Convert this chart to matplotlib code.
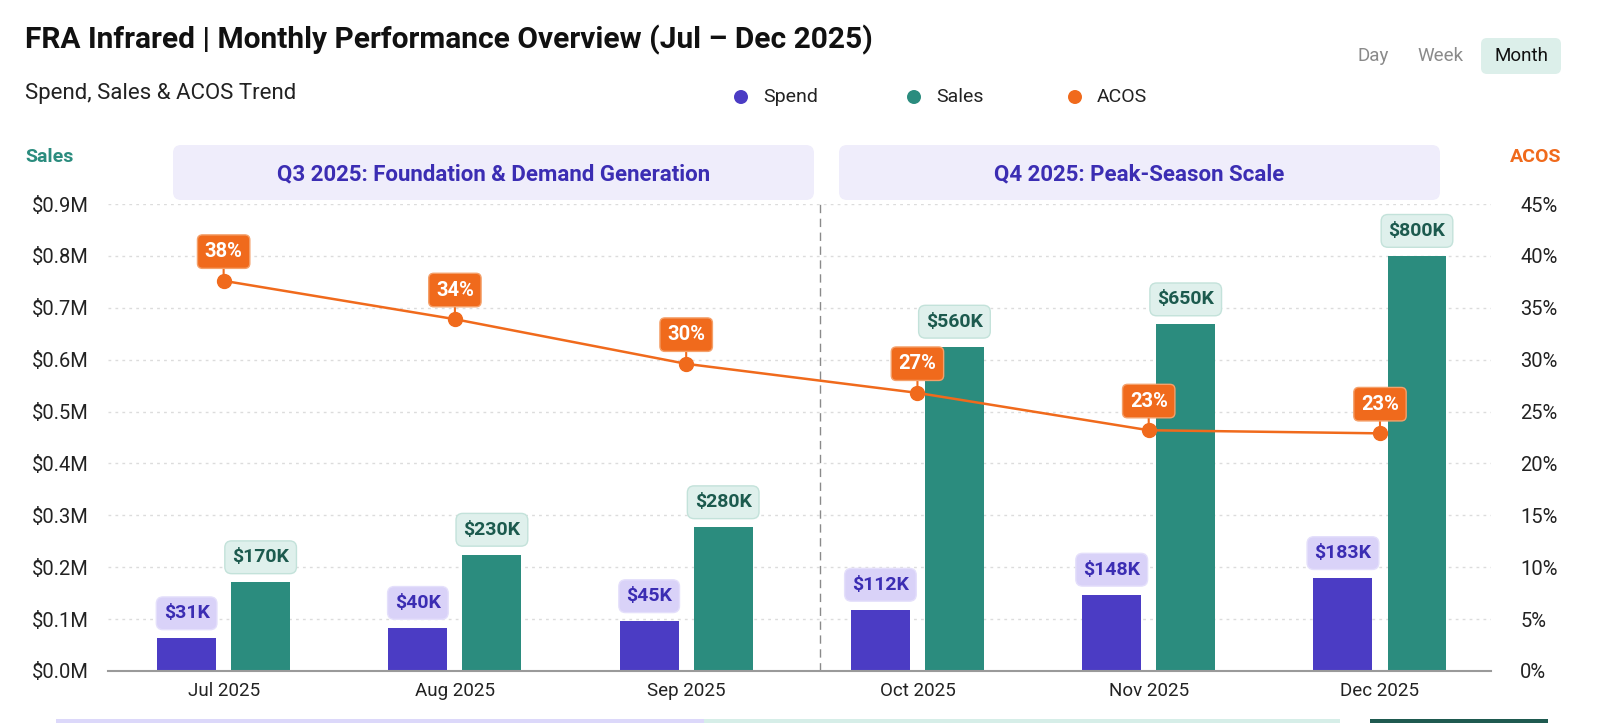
import numpy as np
import matplotlib
matplotlib.use('Agg')
import matplotlib.pyplot as plt
from matplotlib.patches import FancyBboxPatch, Circle, Rectangle
from matplotlib.transforms import IdentityTransform
from matplotlib.ticker import FuncFormatter, MultipleLocator

# data
months = ['Jul 2025', 'Aug 2025', 'Sep 2025', 'Oct 2025', 'Nov 2025', 'Dec 2025']
spend = [0.063, 0.083, 0.096, 0.118, 0.147, 0.179]      # bar heights, $M
sales = [0.171, 0.224, 0.277, 0.625, 0.668, 0.800]      # bar heights, $M
spend_labels = ['$31K', '$40K', '$45K', '$112K', '$148K', '$183K']
sales_labels = ['$170K', '$230K', '$280K', '$560K', '$650K', '$800K']
acos = [37.6, 33.9, 29.6, 26.8, 23.2, 22.9]             # %
acos_labels = ['38%', '34%', '30%', '27%', '23%', '23%']
quarters = ['Q3 2025: Foundation & Demand Generation', 'Q4 2025: Peak-Season Scale']

SPEND = '#4b3cc4'
SALES = '#2b8c7e'
ORANGE = '#f06a1c'
INDIGO = '#3b2db3'
DKGREEN = '#1c5a4e'

plt.rcParams['font.family'] = ['Roboto', 'DejaVu Sans']

W, H = 1600, 723
fig = plt.figure(figsize=(16, 7.23), dpi=100)
fig.patch.set_facecolor('white')

def fx(x):
    return x / W

def fy(y):
    return 1 - y / H

def rbox(x0, y0, x1, y1, fc, ec='none', r=8, lw=1):
    # pixel box, top-left origin
    p = FancyBboxPatch((x0, H - y1), x1 - x0, y1 - y0,
                       boxstyle=f'round,pad=0,rounding_size={r}',
                       fc=fc, ec=ec, lw=lw, transform=IdentityTransform())
    fig.add_artist(p)

# ---- header ----
fig.text(fx(25), fy(40), 'FRA Infrared | Monthly Performance Overview (Jul \u2013 Dec 2025)',
         fontsize=21.5, fontweight='bold', va='center', color='#111111')
fig.text(fx(25), fy(93), 'Spend, Sales & ACOS Trend', fontsize=16, va='center', color='#222222')

# Day / Week / Month toggle
rbox(1481, 38, 1561, 74, '#dcefea', r=6)
fig.text(fx(1373), fy(56), 'Day', fontsize=13.5, ha='center', va='center', color='#8a8a8a')
fig.text(fx(1441), fy(56), 'Week', fontsize=13.5, ha='center', va='center', color='#8a8a8a')
fig.text(fx(1521), fy(56), 'Month', fontsize=13.5, ha='center', va='center', color='#111111')

# legend
for cx, txt, col in [(741, 'Spend', SPEND), (914, 'Sales', SALES), (1075, 'ACOS', ORANGE)]:
    fig.add_artist(Circle((cx, H - 97), 7, fc=col, ec='none', transform=IdentityTransform()))
    fig.text(fx(cx + 22), fy(97), txt, fontsize=14, va='center', color='#222222')

# axis titles
fig.text(fx(25), fy(157), 'Sales', fontsize=14, fontweight='bold', va='center', color=SALES)
fig.text(fx(1561), fy(157), 'ACOS', fontsize=14, fontweight='bold', va='center', ha='right', color=ORANGE)

# quarter banners
rbox(173, 145, 814, 200, '#efedfb', r=8)
rbox(839, 145, 1440, 200, '#efedfb', r=8)
fig.text(fx((173 + 814) / 2), fy(174), quarters[0], fontsize=16, fontweight='bold',
         ha='center', va='center', color=INDIGO)
fig.text(fx((839 + 1440) / 2), fy(174), quarters[1], fontsize=16, fontweight='bold',
         ha='center', va='center', color=INDIGO)

# cut-off strip at bottom
fig.add_artist(Rectangle((56, -10), 648, 14, fc='#dcd8fa', ec='none', transform=IdentityTransform()))
fig.add_artist(Rectangle((704, -10), 636, 14, fc='#d6eee8', ec='none', transform=IdentityTransform()))
fig.add_artist(Rectangle((1370, -10), 178, 14, fc='#1f5a50', ec='none', transform=IdentityTransform()))

# ---- main axes ----
ax = fig.add_axes([fx(108), fy(671), fx(1491) - fx(108), (671 - 204) / H])
x = np.arange(len(months))
bw = 0.255
off = 0.16

ax.bar(x - off, spend, bw, color=SPEND, zorder=3)
ax.bar(x + off, sales, bw, color=SALES, zorder=3)

for xi, v, lab in zip(x, spend, spend_labels):
    ax.annotate(lab, (xi - off, v), xytext=(0, 18), textcoords='offset points',
                ha='center', va='center', fontsize=14, fontweight='bold', color=INDIGO,
                bbox=dict(boxstyle='round,pad=0.38,rounding_size=0.35', fc='#d9d2f8', ec='#e4dffb'),
                zorder=5, annotation_clip=False)
for xi, v, lab in zip(x, sales, sales_labels):
    ax.annotate(lab, (xi + off, v), xytext=(0, 18), textcoords='offset points',
                ha='center', va='center', fontsize=14, fontweight='bold', color=DKGREEN,
                bbox=dict(boxstyle='round,pad=0.38,rounding_size=0.35', fc='#dff0ec', ec='#c3e2da'),
                zorder=5, annotation_clip=False)

ax.set_xlim(-0.5, 5.48)
ax.set_ylim(0, 0.9)
ax.yaxis.set_major_locator(MultipleLocator(0.1))
ax.yaxis.set_major_formatter(FuncFormatter(lambda v, p: f'${v:.1f}M'))
ax.set_xticks(x)
ax.set_xticklabels(months)
ax.tick_params(axis='y', length=0, labelsize=14.5, colors='#222222', pad=14)
ax.tick_params(axis='x', length=0, labelsize=13.5, colors='#222222', pad=8)
ax.grid(axis='y', color='#dcdcdc', linestyle=(0, (2, 3)), lw=1)
ax.set_axisbelow(True)
for s in ['top', 'left', 'right']:
    ax.spines[s].set_visible(False)
ax.spines['bottom'].set_color('#9a9a9a')
ax.spines['bottom'].set_linewidth(1.5)
ax.spines['bottom'].set_zorder(4)

# Q3 / Q4 divider
ax.axvline(2.58, color='#8a8a8a', lw=1, linestyle=(0, (6, 4)), zorder=2, ymax=1.01, clip_on=False)

# ---- ACOS line ----
ax2 = ax.twinx()
ax2.plot(x, acos, color=ORANGE, lw=1.8, marker='o', markersize=10, zorder=4)
for xi, v, lab in zip(x, acos, acos_labels):
    ax2.annotate(lab, (xi, v), xytext=(0, 21), textcoords='offset points',
                 ha='center', va='center', fontsize=14.5, fontweight='bold', color='white',
                 bbox=dict(boxstyle='round,pad=0.36,rounding_size=0.25', fc=ORANGE, ec='#f4a06a'),
                 arrowprops=dict(arrowstyle='-', color=ORANGE, lw=1.5, shrinkA=0, shrinkB=5),
                 zorder=6, annotation_clip=False)
ax2.set_ylim(0, 45)
ax2.yaxis.set_major_locator(MultipleLocator(5))
ax2.yaxis.set_major_formatter(FuncFormatter(lambda v, p: f'{v:.0f}%'))
ax2.tick_params(axis='y', length=0, labelsize=14.5, colors='#222222', pad=21)
for s in ax2.spines.values():
    s.set_visible(False)

fig.savefig('out.png', dpi=100)
